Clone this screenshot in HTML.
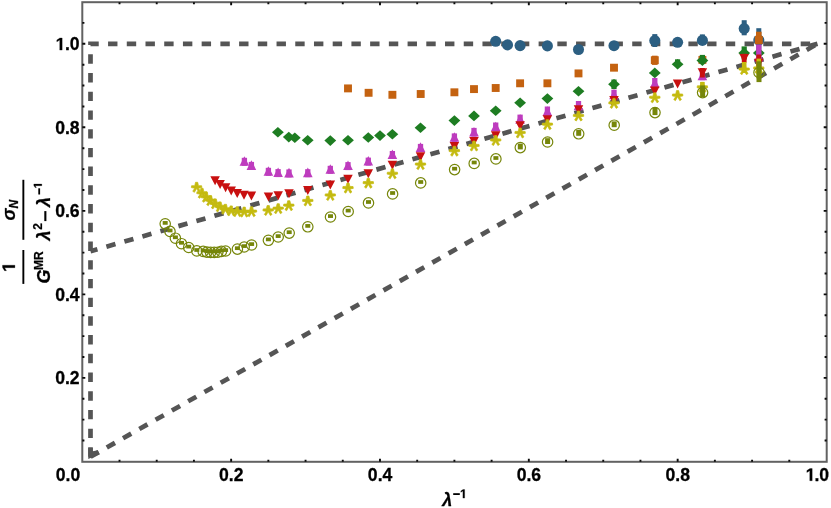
<!DOCTYPE html>
<html lang="en">
<head>
<meta charset="utf-8">
<title>Mooney-Rivlin plot</title>
<style>
html,body{margin:0;padding:0;background:#ffffff;}
body{width:831px;height:508px;overflow:hidden;font-family:"Liberation Sans",sans-serif;}
svg{display:block;will-change:transform;}
text{font-family:"Liberation Sans",sans-serif;}
</style>
</head>
<body>
<svg width="831" height="508" viewBox="0 0 831 508">
<rect width="831" height="508" fill="#ffffff"/>
<g stroke="#555555" stroke-width="4.7" fill="none" stroke-dasharray="9.4 9.32">
<path d="M90.5 456.8 L90.5 43.8 L817.5 43.8" stroke-linejoin="miter"/>
<path d="M90.5 456.8 L817.5 43.8"/>
<path d="M817.5 43.8 L90.5 251.2"/>
</g>
<path d="M88.25 447.5 L92.75 447.5 L92.75 451.2 L97.8 450.3 L99.6 454.2 L88.25 459.0 Z" fill="#555555"/>
<g id="s-blue" fill="#2c5f82">
<circle cx="495.7" cy="41.3" r="5.55"/>
<circle cx="507.5" cy="44.9" r="5.55"/>
<circle cx="520.1" cy="45.6" r="5.55"/>
<circle cx="547.4" cy="45.9" r="5.55"/>
<circle cx="578.5" cy="49.5" r="5.55"/>
<circle cx="614" cy="45.7" r="5.55"/>
<rect x="652.3" y="34.1" width="5" height="12.9" fill="#2c5f82"/>
<circle cx="654.8" cy="40.6" r="5.55"/>
<circle cx="677.6" cy="42.3" r="5.55"/>
<rect x="699.9" y="34.4" width="5" height="10.6" fill="#2c5f82"/>
<circle cx="702.4" cy="40.4" r="5.55"/>
<rect x="741.7" y="20.2" width="5" height="15.1" fill="#2c5f82"/>
<circle cx="744.2" cy="28.6" r="5.55"/>
<rect x="756.3" y="28.2" width="5" height="21.8" fill="#2c5f82"/>
<circle cx="758.8" cy="40.1" r="5.55"/>
</g>
<g id="s-orange" fill="#c46210">
<rect x="344.05" y="84.45" width="7.9" height="7.9"/>
<rect x="364.65" y="88.85" width="7.9" height="7.9"/>
<rect x="388.45" y="90.85" width="7.9" height="7.9"/>
<rect x="416.75" y="90.05" width="7.9" height="7.9"/>
<rect x="450.45" y="88.35" width="7.9" height="7.9"/>
<rect x="470.05" y="85.15" width="7.9" height="7.9"/>
<rect x="491.75" y="84.05" width="7.9" height="7.9"/>
<rect x="516.15" y="79.35" width="7.9" height="7.9"/>
<rect x="543.45" y="79.35" width="7.9" height="7.9"/>
<rect x="574.55" y="69.45" width="7.9" height="7.9"/>
<rect x="610.05" y="63.75" width="7.9" height="7.9"/>
<rect x="652" y="55.7" width="5.6" height="9.2" fill="#c46210"/>
<rect x="650.85" y="56.25" width="7.9" height="7.9"/>
<rect x="698.45" y="55.95" width="7.9" height="7.9"/>
<rect x="756" y="31.7" width="5.6" height="12.7" fill="#c46210"/>
<rect x="754.85" y="36.05" width="7.9" height="7.9"/>
</g>
<g id="s-green" fill="#1e7d22">
<path d="M272 132.3 L277.9 127 L283.8 132.3 L277.9 137.6Z"/>
<path d="M282.9 137.1 L288.8 131.8 L294.7 137.1 L288.8 142.4Z"/>
<path d="M288.9 137.8 L294.8 132.5 L300.7 137.8 L294.8 143.1Z"/>
<path d="M301.8 140.3 L307.7 135 L313.6 140.3 L307.7 145.6Z"/>
<path d="M324.4 140.6 L330.3 135.3 L336.2 140.6 L330.3 145.9Z"/>
<path d="M342.1 140.3 L348 135 L353.9 140.3 L348 145.6Z"/>
<path d="M362.4 137.5 L368.3 132.2 L374.2 137.5 L368.3 142.8Z"/>
<path d="M374.1 135.6 L380 130.3 L385.9 135.6 L380 140.9Z"/>
<path d="M386.5 134.3 L392.4 129 L398.3 134.3 L392.4 139.6Z"/>
<path d="M414.6 127.8 L420.5 122.5 L426.4 127.8 L420.5 133.1Z"/>
<path d="M448.5 120.6 L454.4 115.3 L460.3 120.6 L454.4 125.9Z"/>
<path d="M468.1 115.9 L474 110.6 L479.9 115.9 L474 121.2Z"/>
<path d="M489.8 110.8 L495.7 105.5 L501.6 110.8 L495.7 116.1Z"/>
<path d="M514.2 102.8 L520.1 97.5 L526 102.8 L520.1 108.1Z"/>
<path d="M541.5 98.6 L547.4 93.3 L553.3 98.6 L547.4 103.9Z"/>
<path d="M572.6 91.2 L578.5 85.9 L584.4 91.2 L578.5 96.5Z"/>
<rect x="611.4" y="79.5" width="5.2" height="9.5" fill="#1e7d22"/>
<path d="M608.1 84.2 L614 78.9 L619.9 84.2 L614 89.5Z"/>
<path d="M648.9 72.9 L654.8 67.6 L660.7 72.9 L654.8 78.2Z"/>
<rect x="675" y="59.3" width="5.2" height="7" fill="#1e7d22"/>
<path d="M671.7 64.3 L677.6 59 L683.5 64.3 L677.6 69.6Z"/>
<rect x="699.8" y="54.9" width="5.2" height="8.1" fill="#1e7d22"/>
<path d="M696.5 60.6 L702.4 55.3 L708.3 60.6 L702.4 65.9Z"/>
<rect x="741.6" y="46.4" width="5.2" height="13.1" fill="#1e7d22"/>
<path d="M738.3 53 L744.2 47.7 L750.1 53 L744.2 58.3Z"/>
<path d="M752.9 53 L758.8 47.7 L764.7 53 L758.8 58.3Z"/>
</g>
<g id="s-magenta" fill="#be3cbe">
<rect x="241.75" y="157.8" width="5.3" height="8" fill="#be3cbe"/>
<path d="M239.6 165.8 L244.4 156.2 L249.2 165.8Z"/>
<rect x="248.75" y="161.9" width="5.3" height="8" fill="#be3cbe"/>
<path d="M246.6 169.9 L251.4 160.3 L256.2 169.9Z"/>
<rect x="265.75" y="167.8" width="5.3" height="8" fill="#be3cbe"/>
<path d="M263.6 175.8 L268.4 166.2 L273.2 175.8Z"/>
<rect x="275.45" y="169.1" width="5.3" height="8" fill="#be3cbe"/>
<path d="M273.3 177.1 L278.1 167.5 L282.9 177.1Z"/>
<rect x="286.35" y="169.4" width="5.3" height="8" fill="#be3cbe"/>
<path d="M284.2 177.4 L289 167.8 L293.8 177.4Z"/>
<rect x="305.15" y="169.2" width="5.3" height="8" fill="#be3cbe"/>
<path d="M303 177.2 L307.8 167.6 L312.6 177.2Z"/>
<rect x="327.65" y="165.8" width="5.3" height="8" fill="#be3cbe"/>
<path d="M325.5 173.8 L330.3 164.2 L335.1 173.8Z"/>
<rect x="345.35" y="162.1" width="5.3" height="8" fill="#be3cbe"/>
<path d="M343.2 170.1 L348 160.5 L352.8 170.1Z"/>
<rect x="365.65" y="157.6" width="5.3" height="8" fill="#be3cbe"/>
<path d="M363.5 165.6 L368.3 156 L373.1 165.6Z"/>
<rect x="389.75" y="151" width="5.3" height="8" fill="#be3cbe"/>
<path d="M387.6 159 L392.4 149.4 L397.2 159Z"/>
<rect x="417.85" y="143.9" width="5.3" height="8" fill="#be3cbe"/>
<path d="M415.7 151.9 L420.5 142.3 L425.3 151.9Z"/>
<rect x="451.75" y="133.4" width="5.3" height="8.4" fill="#be3cbe"/>
<path d="M449.6 141.8 L454.4 132.2 L459.2 141.8Z"/>
<rect x="471.35" y="127.9" width="5.3" height="8.7" fill="#be3cbe"/>
<path d="M469.2 136.6 L474 127 L478.8 136.6Z"/>
<rect x="493.05" y="122.5" width="5.3" height="8.8" fill="#be3cbe"/>
<path d="M490.9 131.3 L495.7 121.7 L500.5 131.3Z"/>
<rect x="517.45" y="114.6" width="5.3" height="9.1" fill="#be3cbe"/>
<path d="M515.3 123.7 L520.1 114.1 L524.9 123.7Z"/>
<rect x="544.75" y="106.5" width="5.3" height="9.4" fill="#be3cbe"/>
<path d="M542.6 115.9 L547.4 106.3 L552.2 115.9Z"/>
<rect x="575.85" y="101" width="5.3" height="9.3" fill="#be3cbe"/>
<path d="M573.7 110.3 L578.5 100.7 L583.3 110.3Z"/>
<rect x="611.35" y="89.7" width="5.3" height="9.5" fill="#be3cbe"/>
<path d="M609.2 99.2 L614 89.6 L618.8 99.2Z"/>
<rect x="652.15" y="78" width="5.3" height="10" fill="#be3cbe"/>
<path d="M650 87.8 L654.8 78.2 L659.6 87.8Z"/>
<rect x="699.75" y="71.4" width="5.3" height="8.8" fill="#be3cbe"/>
<path d="M697.6 80.2 L702.4 70.6 L707.2 80.2Z"/>
<rect x="756.15" y="44.6" width="5.3" height="24" fill="#be3cbe"/>
<path d="M754 61.4 L758.8 51.8 L763.6 61.4Z"/>
</g>
<g id="s-red" fill="#c81010">
<path d="M210.35 176.3 L219.85 176.3 L215.1 185.3Z"/>
<path d="M215.35 179.9 L224.85 179.9 L220.1 188.9Z"/>
<path d="M220.85 183.2 L230.35 183.2 L225.6 192.2Z"/>
<path d="M226.45 186.5 L235.95 186.5 L231.2 195.5Z"/>
<path d="M232.45 189 L241.95 189 L237.2 198Z"/>
<path d="M239.25 190.8 L248.75 190.8 L244 199.8Z"/>
<path d="M246.65 191.6 L256.15 191.6 L251.4 200.6Z"/>
<path d="M263.75 192.4 L273.25 192.4 L268.5 201.4Z"/>
<path d="M273.45 191.2 L282.95 191.2 L278.2 200.2Z"/>
<path d="M284.25 189.3 L293.75 189.3 L289 198.3Z"/>
<path d="M303.05 186 L312.55 186 L307.8 195Z"/>
<path d="M325.55 180.5 L335.05 180.5 L330.3 189.5Z"/>
<path d="M343.25 174.8 L352.75 174.8 L348 183.8Z"/>
<path d="M363.55 169.2 L373.05 169.2 L368.3 178.2Z"/>
<path d="M387.65 160.7 L397.15 160.7 L392.4 169.7Z"/>
<path d="M415.75 152.3 L425.25 152.3 L420.5 161.3Z"/>
<path d="M449.65 142 L459.15 142 L454.4 151Z"/>
<path d="M469.25 137.1 L478.75 137.1 L474 146.1Z"/>
<path d="M490.95 131.3 L500.45 131.3 L495.7 140.3Z"/>
<path d="M515.35 121.3 L524.85 121.3 L520.1 130.3Z"/>
<path d="M542.65 115.2 L552.15 115.2 L547.4 124.2Z"/>
<path d="M573.75 105.2 L583.25 105.2 L578.5 114.2Z"/>
<path d="M609.25 95.9 L618.75 95.9 L614 104.9Z"/>
<path d="M650.05 86.5 L659.55 86.5 L654.8 95.5Z"/>
<path d="M672.85 79.4 L682.35 79.4 L677.6 88.4Z"/>
<rect x="700" y="68" width="4.8" height="9.5" fill="#c81010"/>
<path d="M697.65 68.2 L707.15 68.2 L702.4 77.2Z"/>
<rect x="741.8" y="53.8" width="4.8" height="8.8" fill="#c81010"/>
<path d="M739.45 53.9 L748.95 53.9 L744.2 62.9Z"/>
<rect x="756.4" y="54.5" width="4.8" height="17.6" fill="#c81010"/>
<path d="M754.05 58.8 L763.55 58.8 L758.8 67.8Z"/>
</g>
<g id="s-yellow" fill="#c4ba10" stroke="#c4ba10" stroke-width="0.7" stroke-linejoin="round">
<path d="M195.5 182.3L197.7 182.3L198.46 185.63L201.65 185.72L201.88 187.61L198.49 188.22L200.45 191.22L198.79 192.34L196.6 188.5L194.41 192.34L192.75 191.22L194.71 188.22L191.32 187.61L191.55 185.72L194.74 185.63Z"/>
<path d="M200.9 188.3L203.1 188.3L203.86 191.63L207.05 191.72L207.28 193.61L203.89 194.22L205.85 197.22L204.19 198.34L202 194.5L199.81 198.34L198.15 197.22L200.11 194.22L196.72 193.61L196.95 191.72L200.14 191.63Z"/>
<path d="M205.1 192.3L207.3 192.3L208.06 195.63L211.25 195.72L211.48 197.61L208.09 198.22L210.05 201.22L208.39 202.34L206.2 198.5L204.01 202.34L202.35 201.22L204.31 198.22L200.92 197.61L201.15 195.72L204.34 195.63Z"/>
<path d="M209.4 195.7L211.6 195.7L212.36 199.03L215.55 199.12L215.78 201.01L212.39 201.62L214.35 204.62L212.69 205.74L210.5 201.9L208.31 205.74L206.65 204.62L208.61 201.62L205.22 201.01L205.45 199.12L208.64 199.03Z"/>
<path d="M214.1 198.9L216.3 198.9L217.06 202.23L220.25 202.32L220.48 204.21L217.09 204.82L219.05 207.82L217.39 208.94L215.2 205.1L213.01 208.94L211.35 207.82L213.31 204.82L209.92 204.21L210.15 202.32L213.34 202.23Z"/>
<path d="M218.9 201.9L221.1 201.9L221.86 205.23L225.05 205.32L225.28 207.21L221.89 207.82L223.85 210.82L222.19 211.94L220 208.1L217.81 211.94L216.15 210.82L218.11 207.82L214.72 207.21L214.95 205.32L218.14 205.23Z"/>
<path d="M224.3 204.3L226.5 204.3L227.26 207.63L230.45 207.72L230.68 209.61L227.29 210.22L229.25 213.22L227.59 214.34L225.4 210.5L223.21 214.34L221.55 213.22L223.51 210.22L220.12 209.61L220.35 207.72L223.54 207.63Z"/>
<path d="M230.1 205.9L232.3 205.9L233.06 209.23L236.25 209.32L236.48 211.21L233.09 211.82L235.05 214.82L233.39 215.94L231.2 212.1L229.01 215.94L227.35 214.82L229.31 211.82L225.92 211.21L226.15 209.32L229.34 209.23Z"/>
<path d="M236.2 206.7L238.4 206.7L239.16 210.03L242.35 210.12L242.58 212.01L239.19 212.62L241.15 215.62L239.49 216.74L237.3 212.9L235.11 216.74L233.45 215.62L235.41 212.62L232.02 212.01L232.25 210.12L235.44 210.03Z"/>
<path d="M243.1 207.1L245.3 207.1L246.06 210.43L249.25 210.52L249.48 212.41L246.09 213.02L248.05 216.02L246.39 217.14L244.2 213.3L242.01 217.14L240.35 216.02L242.31 213.02L238.92 212.41L239.15 210.52L242.34 210.43Z"/>
<path d="M250.4 206.7L252.6 206.7L253.36 210.03L256.55 210.12L256.78 212.01L253.39 212.62L255.35 215.62L253.69 216.74L251.5 212.9L249.31 216.74L247.65 215.62L249.61 212.62L246.22 212.01L246.45 210.12L249.64 210.03Z"/>
<path d="M267.1 205.5L269.3 205.5L270.06 208.83L273.25 208.92L273.48 210.81L270.09 211.42L272.05 214.42L270.39 215.54L268.2 211.7L266.01 215.54L264.35 214.42L266.31 211.42L262.92 210.81L263.15 208.92L266.34 208.83Z"/>
<path d="M277.1 203.7L279.3 203.7L280.06 207.03L283.25 207.12L283.48 209.01L280.09 209.62L282.05 212.62L280.39 213.74L278.2 209.9L276.01 213.74L274.35 212.62L276.31 209.62L272.92 209.01L273.15 207.12L276.34 207.03Z"/>
<path d="M287.7 200.7L289.9 200.7L290.66 204.03L293.85 204.12L294.08 206.01L290.69 206.62L292.65 209.62L290.99 210.74L288.8 206.9L286.61 210.74L284.95 209.62L286.91 206.62L283.52 206.01L283.75 204.12L286.94 204.03Z"/>
<path d="M306.7 196L308.9 196L309.66 199.33L312.85 199.42L313.08 201.31L309.69 201.92L311.65 204.92L309.99 206.04L307.8 202.2L305.61 206.04L303.95 204.92L305.91 201.92L302.52 201.31L302.75 199.42L305.94 199.33Z"/>
<path d="M329.2 190.5L331.4 190.5L332.16 193.83L335.35 193.92L335.58 195.81L332.19 196.42L334.15 199.42L332.49 200.54L330.3 196.7L328.11 200.54L326.45 199.42L328.41 196.42L325.02 195.81L325.25 193.92L328.44 193.83Z"/>
<path d="M346.9 183.1L349.1 183.1L349.86 186.43L353.05 186.52L353.28 188.41L349.89 189.02L351.85 192.02L350.19 193.14L348 189.3L345.81 193.14L344.15 192.02L346.11 189.02L342.72 188.41L342.95 186.52L346.14 186.43Z"/>
<path d="M367.2 178.2L369.4 178.2L370.16 181.53L373.35 181.62L373.58 183.51L370.19 184.12L372.15 187.12L370.49 188.24L368.3 184.4L366.11 188.24L364.45 187.12L366.41 184.12L363.02 183.51L363.25 181.62L366.44 181.53Z"/>
<path d="M391.3 168.8L393.5 168.8L394.26 172.13L397.45 172.22L397.68 174.11L394.29 174.72L396.25 177.72L394.59 178.84L392.4 175L390.21 178.84L388.55 177.72L390.51 174.72L387.12 174.11L387.35 172.22L390.54 172.13Z"/>
<path d="M419.4 159.6L421.6 159.6L422.36 162.93L425.55 163.02L425.78 164.91L422.39 165.52L424.35 168.52L422.69 169.64L420.5 165.8L418.31 169.64L416.65 168.52L418.61 165.52L415.22 164.91L415.45 163.02L418.64 162.93Z"/>
<path d="M453.3 146.2L455.5 146.2L456.26 149.53L459.45 149.62L459.68 151.51L456.29 152.12L458.25 155.12L456.59 156.24L454.4 152.4L452.21 156.24L450.55 155.12L452.51 152.12L449.12 151.51L449.35 149.62L452.54 149.53Z"/>
<path d="M472.9 141L475.1 141L475.86 144.33L479.05 144.42L479.28 146.31L475.89 146.92L477.85 149.92L476.19 151.04L474 147.2L471.81 151.04L470.15 149.92L472.11 146.92L468.72 146.31L468.95 144.42L472.14 144.33Z"/>
<path d="M494.6 135.5L496.8 135.5L497.56 138.83L500.75 138.92L500.98 140.81L497.59 141.42L499.55 144.42L497.89 145.54L495.7 141.7L493.51 145.54L491.85 144.42L493.81 141.42L490.42 140.81L490.65 138.92L493.84 138.83Z"/>
<path d="M519 128L521.2 128L521.96 131.33L525.15 131.42L525.38 133.31L521.99 133.92L523.95 136.92L522.29 138.04L520.1 134.2L517.91 138.04L516.25 136.92L518.21 133.92L514.82 133.31L515.05 131.42L518.24 131.33Z"/>
<path d="M546.3 119.7L548.5 119.7L549.26 123.03L552.45 123.12L552.68 125.01L549.29 125.62L551.25 128.62L549.59 129.74L547.4 125.9L545.21 129.74L543.55 128.62L545.51 125.62L542.12 125.01L542.35 123.12L545.54 123.03Z"/>
<path d="M577.4 111L579.6 111L580.36 114.33L583.55 114.42L583.78 116.31L580.39 116.92L582.35 119.92L580.69 121.04L578.5 117.2L576.31 121.04L574.65 119.92L576.61 116.92L573.22 116.31L573.45 114.42L576.64 114.33Z"/>
<path d="M612.9 98.4L615.1 98.4L615.86 101.73L619.05 101.82L619.28 103.71L615.89 104.32L617.85 107.32L616.19 108.44L614 104.6L611.81 108.44L610.15 107.32L612.11 104.32L608.72 103.71L608.95 101.82L612.14 101.73Z"/>
<path d="M653.7 92.8L655.9 92.8L656.66 96.13L659.85 96.22L660.08 98.11L656.69 98.72L658.65 101.72L656.99 102.84L654.8 99L652.61 102.84L650.95 101.72L652.91 98.72L649.52 98.11L649.75 96.22L652.94 96.13Z"/>
<path d="M676.5 90.6L678.7 90.6L679.46 93.93L682.65 94.02L682.88 95.91L679.49 96.52L681.45 99.52L679.79 100.64L677.6 96.8L675.41 100.64L673.75 99.52L675.71 96.52L672.32 95.91L672.55 94.02L675.74 93.93Z"/>
<rect x="700.1" y="81.9" width="4.6" height="10.5" stroke="none"/>
<path d="M701.3 82.4L703.5 82.4L704.26 85.73L707.45 85.82L707.68 87.71L704.29 88.32L706.25 91.32L704.59 92.44L702.4 88.6L700.21 92.44L698.55 91.32L700.51 88.32L697.12 87.71L697.35 85.82L700.54 85.73Z"/>
<rect x="741.9" y="62" width="4.6" height="11" stroke="none"/>
<path d="M743.1 64.6L745.3 64.6L746.06 67.93L749.25 68.02L749.48 69.91L746.09 70.52L748.05 73.52L746.39 74.64L744.2 70.8L742.01 74.64L740.35 73.52L742.31 70.52L738.92 69.91L739.15 68.02L742.34 67.93Z"/>
<rect x="756.5" y="58.6" width="4.6" height="19.8" stroke="none"/>
<path d="M757.7 63.5L759.9 63.5L760.66 66.83L763.85 66.92L764.08 68.81L760.69 69.42L762.65 72.42L760.99 73.54L758.8 69.7L756.61 73.54L754.95 72.42L756.91 69.42L753.52 68.81L753.75 66.92L756.94 66.83Z"/>
</g>
<g id="s-olive" fill="#76860a">
<rect x="162.7" y="221.05" width="5" height="3.7" fill="#76860a"/>
<circle cx="165.2" cy="223.8" r="5.2" fill="none" stroke="#76860a" stroke-width="1.2"/>
<rect x="167.5" y="228.65" width="5" height="3.7" fill="#76860a"/>
<circle cx="170" cy="231.4" r="5.2" fill="none" stroke="#76860a" stroke-width="1.2"/>
<rect x="172.9" y="235.45" width="5" height="3.7" fill="#76860a"/>
<circle cx="175.4" cy="238.2" r="5.2" fill="none" stroke="#76860a" stroke-width="1.2"/>
<rect x="179" y="240.95" width="5" height="3.7" fill="#76860a"/>
<circle cx="181.5" cy="243.7" r="5.2" fill="none" stroke="#76860a" stroke-width="1.2"/>
<rect x="186.2" y="244.75" width="5" height="3.7" fill="#76860a"/>
<circle cx="188.7" cy="247.5" r="5.2" fill="none" stroke="#76860a" stroke-width="1.2"/>
<rect x="194.3" y="248.15" width="5" height="3.7" fill="#76860a"/>
<circle cx="196.8" cy="250.9" r="5.2" fill="none" stroke="#76860a" stroke-width="1.2"/>
<rect x="200.7" y="248.65" width="5" height="3.7" fill="#76860a"/>
<circle cx="203.2" cy="251.4" r="5.2" fill="none" stroke="#76860a" stroke-width="1.2"/>
<rect x="204.4" y="249.35" width="5" height="3.7" fill="#76860a"/>
<circle cx="206.9" cy="252.1" r="5.2" fill="none" stroke="#76860a" stroke-width="1.2"/>
<rect x="208.1" y="249.65" width="5" height="3.7" fill="#76860a"/>
<circle cx="210.6" cy="252.4" r="5.2" fill="none" stroke="#76860a" stroke-width="1.2"/>
<rect x="211.7" y="249.65" width="5" height="3.7" fill="#76860a"/>
<circle cx="214.2" cy="252.4" r="5.2" fill="none" stroke="#76860a" stroke-width="1.2"/>
<rect x="215.3" y="249.45" width="5" height="3.7" fill="#76860a"/>
<circle cx="217.8" cy="252.2" r="5.2" fill="none" stroke="#76860a" stroke-width="1.2"/>
<rect x="218.9" y="248.65" width="5" height="3.7" fill="#76860a"/>
<circle cx="221.4" cy="251.4" r="5.2" fill="none" stroke="#76860a" stroke-width="1.2"/>
<rect x="223.1" y="248.25" width="5" height="3.7" fill="#76860a"/>
<circle cx="225.6" cy="251" r="5.2" fill="none" stroke="#76860a" stroke-width="1.2"/>
<rect x="234.9" y="246.35" width="5" height="3.7" fill="#76860a"/>
<circle cx="237.4" cy="249.1" r="5.2" fill="none" stroke="#76860a" stroke-width="1.2"/>
<rect x="241.7" y="244.25" width="5" height="3.7" fill="#76860a"/>
<circle cx="244.2" cy="247" r="5.2" fill="none" stroke="#76860a" stroke-width="1.2"/>
<rect x="249.1" y="242.25" width="5" height="3.7" fill="#76860a"/>
<circle cx="251.6" cy="245" r="5.2" fill="none" stroke="#76860a" stroke-width="1.2"/>
<rect x="265.9" y="237.55" width="5" height="3.7" fill="#76860a"/>
<circle cx="268.4" cy="240.3" r="5.2" fill="none" stroke="#76860a" stroke-width="1.2"/>
<rect x="275.7" y="234.25" width="5" height="3.7" fill="#76860a"/>
<circle cx="278.2" cy="237" r="5.2" fill="none" stroke="#76860a" stroke-width="1.2"/>
<rect x="286.7" y="230.35" width="5" height="3.7" fill="#76860a"/>
<circle cx="289.2" cy="233.1" r="5.2" fill="none" stroke="#76860a" stroke-width="1.2"/>
<rect x="305.3" y="224.05" width="5" height="3.7" fill="#76860a"/>
<circle cx="307.8" cy="226.8" r="5.2" fill="none" stroke="#76860a" stroke-width="1.2"/>
<rect x="328" y="214.25" width="5" height="3.7" fill="#76860a"/>
<circle cx="330.5" cy="217" r="5.2" fill="none" stroke="#76860a" stroke-width="1.2"/>
<rect x="345.7" y="208.75" width="5" height="3.7" fill="#76860a"/>
<circle cx="348.2" cy="211.5" r="5.2" fill="none" stroke="#76860a" stroke-width="1.2"/>
<rect x="366" y="200.15" width="5" height="3.7" fill="#76860a"/>
<circle cx="368.5" cy="202.9" r="5.2" fill="none" stroke="#76860a" stroke-width="1.2"/>
<rect x="390.1" y="191.15" width="5" height="3.7" fill="#76860a"/>
<circle cx="392.6" cy="193.9" r="5.2" fill="none" stroke="#76860a" stroke-width="1.2"/>
<rect x="418.2" y="180.15" width="5" height="3.7" fill="#76860a"/>
<circle cx="420.7" cy="182.9" r="5.2" fill="none" stroke="#76860a" stroke-width="1.2"/>
<rect x="452.1" y="166.85" width="5" height="3.7" fill="#76860a"/>
<circle cx="454.6" cy="169.6" r="5.2" fill="none" stroke="#76860a" stroke-width="1.2"/>
<rect x="471.7" y="160.65" width="5" height="3.7" fill="#76860a"/>
<circle cx="474.2" cy="163.4" r="5.2" fill="none" stroke="#76860a" stroke-width="1.2"/>
<rect x="493.4" y="156.15" width="5" height="3.7" fill="#76860a"/>
<circle cx="495.9" cy="158.9" r="5.2" fill="none" stroke="#76860a" stroke-width="1.2"/>
<rect x="517.8" y="143.6" width="5" height="5.8" fill="#76860a"/>
<circle cx="520.3" cy="147.6" r="5.2" fill="none" stroke="#76860a" stroke-width="1.2"/>
<rect x="545.1" y="138.2" width="5" height="5.8" fill="#76860a"/>
<circle cx="547.6" cy="142" r="5.2" fill="none" stroke="#76860a" stroke-width="1.2"/>
<rect x="576.2" y="130" width="5" height="5.8" fill="#76860a"/>
<circle cx="578.7" cy="133.8" r="5.2" fill="none" stroke="#76860a" stroke-width="1.2"/>
<rect x="611.7" y="121.4" width="5" height="5.8" fill="#76860a"/>
<circle cx="614.2" cy="125.2" r="5.2" fill="none" stroke="#76860a" stroke-width="1.2"/>
<rect x="652.5" y="107.4" width="5" height="7.7" fill="#76860a"/>
<circle cx="655" cy="112.6" r="5.2" fill="none" stroke="#76860a" stroke-width="1.2"/>
<rect x="700.1" y="85.4" width="5" height="11.8" fill="#76860a"/>
<circle cx="702.6" cy="92.6" r="5.2" fill="none" stroke="#76860a" stroke-width="1.2"/>
<rect x="756.5" y="61.3" width="5" height="20.8" fill="#76860a"/>
<circle cx="759" cy="72.5" r="5.2" fill="none" stroke="#76860a" stroke-width="1.2"/>
</g>
<rect x="82.3" y="2.2" width="744.4" height="459.6" fill="none" stroke="#626262" stroke-width="2.0"/>
<g stroke="#0a0a0a" stroke-width="1.9">
<path d="M119.51 461.8 v-2.1 M119.51 2.2 v2.1"/>
<path d="M156.72 461.8 v-2.1 M156.72 2.2 v2.1"/>
<path d="M193.93 461.8 v-2.1 M193.93 2.2 v2.1"/>
<path d="M231.14 461.8 v-3 M231.14 2.2 v3"/>
<path d="M268.35 461.8 v-2.1 M268.35 2.2 v2.1"/>
<path d="M305.56 461.8 v-2.1 M305.56 2.2 v2.1"/>
<path d="M342.77 461.8 v-2.1 M342.77 2.2 v2.1"/>
<path d="M379.98 461.8 v-3 M379.98 2.2 v3"/>
<path d="M417.19 461.8 v-2.1 M417.19 2.2 v2.1"/>
<path d="M454.4 461.8 v-2.1 M454.4 2.2 v2.1"/>
<path d="M491.61 461.8 v-2.1 M491.61 2.2 v2.1"/>
<path d="M528.82 461.8 v-3 M528.82 2.2 v3"/>
<path d="M566.03 461.8 v-2.1 M566.03 2.2 v2.1"/>
<path d="M603.24 461.8 v-2.1 M603.24 2.2 v2.1"/>
<path d="M640.45 461.8 v-2.1 M640.45 2.2 v2.1"/>
<path d="M677.66 461.8 v-3 M677.66 2.2 v3"/>
<path d="M714.87 461.8 v-2.1 M714.87 2.2 v2.1"/>
<path d="M752.08 461.8 v-2.1 M752.08 2.2 v2.1"/>
<path d="M789.29 461.8 v-2.1 M789.29 2.2 v2.1"/>
<path d="M82.3 440.52 h2.1 M826.7 440.52 h-2.1"/>
<path d="M82.3 419.64 h2.1 M826.7 419.64 h-2.1"/>
<path d="M82.3 398.76 h2.1 M826.7 398.76 h-2.1"/>
<path d="M82.3 377.88 h3 M826.7 377.88 h-3"/>
<path d="M82.3 357 h2.1 M826.7 357 h-2.1"/>
<path d="M82.3 336.12 h2.1 M826.7 336.12 h-2.1"/>
<path d="M82.3 315.24 h2.1 M826.7 315.24 h-2.1"/>
<path d="M82.3 294.36 h3 M826.7 294.36 h-3"/>
<path d="M82.3 273.48 h2.1 M826.7 273.48 h-2.1"/>
<path d="M82.3 252.6 h2.1 M826.7 252.6 h-2.1"/>
<path d="M82.3 231.72 h2.1 M826.7 231.72 h-2.1"/>
<path d="M82.3 210.84 h3 M826.7 210.84 h-3"/>
<path d="M82.3 189.96 h2.1 M826.7 189.96 h-2.1"/>
<path d="M82.3 169.08 h2.1 M826.7 169.08 h-2.1"/>
<path d="M82.3 148.2 h2.1 M826.7 148.2 h-2.1"/>
<path d="M82.3 127.32 h3 M826.7 127.32 h-3"/>
<path d="M82.3 106.44 h2.1 M826.7 106.44 h-2.1"/>
<path d="M82.3 85.56 h2.1 M826.7 85.56 h-2.1"/>
<path d="M82.3 64.68 h2.1 M826.7 64.68 h-2.1"/>
<path d="M82.3 43.8 h3 M826.7 43.8 h-3"/>
<path d="M82.3 22.92 h2.1 M826.7 22.92 h-2.1"/>
</g>
<g font-family="Liberation Sans, sans-serif" font-weight="bold" font-size="17.6" fill="#000" stroke="#000" stroke-width="0.28" stroke-linejoin="round">
<text x="55.77" y="480.7">0.0</text>
<text x="219.07" y="480.7">0.2</text>
<text x="367.87" y="480.7">0.4</text>
<text x="516.67" y="480.7">0.6</text>
<text x="665.47" y="480.7">0.8</text>
<path transform="translate(805.67 480.7) scale(0.00859 -0.00859)" d="M478 0V1170L140 959V1180L493 1409H759V0Z" fill="#000" stroke="#000" stroke-width="32.58" stroke-linejoin="round"/>
<text x="814.45" y="480.7">.0</text>
<text x="55.14" y="384.18">0.2</text>
<text x="55.14" y="300.66">0.4</text>
<text x="55.14" y="217.14">0.6</text>
<text x="55.14" y="133.62">0.8</text>
<path transform="translate(55.64 50.1) scale(0.00859 -0.00859)" d="M478 0V1170L140 959V1180L493 1409H759V0Z" fill="#000" stroke="#000" stroke-width="32.58" stroke-linejoin="round"/>
<text x="64.92" y="50.1">.0</text>
</g>
<text x="442.2" y="505.7" font-family="Liberation Sans, sans-serif" font-weight="bold" font-style="italic" fill="#000" stroke="#000" stroke-width="0.28" stroke-linejoin="round" font-size="18">λ</text>
<rect x="453.2" y="493.2" width="6.6" height="1.8" fill="#000"/>
<path transform="translate(460 498.1) scale(0.00610 -0.00610)" d="M478 0V1170L140 959V1180L493 1409H759V0Z" fill="#000" stroke="#000" stroke-width="45.88" stroke-linejoin="round"/>
<rect x="22.4" y="179.8" width="1.9" height="60" fill="#000"/>
<rect x="22.4" y="250" width="1.9" height="33.9" fill="#000"/>
<path transform="translate(14.9 271.9) rotate(-90) scale(0.00879 -0.00879)" d="M478 0V1170L140 959V1180L493 1409H759V0Z" fill="#000" stroke="#000" stroke-width="31.86" stroke-linejoin="round"/>
<text transform="translate(50.3 283.6) rotate(-90)" font-family="Liberation Sans, sans-serif" font-weight="bold" font-style="italic" fill="#000" stroke="#000" stroke-width="0.28" stroke-linejoin="round" font-size="18">G</text>
<text transform="translate(43.3 269.9) rotate(-90)" font-family="Liberation Sans, sans-serif" font-weight="bold" fill="#000" stroke="#000" stroke-width="0.22" stroke-linejoin="round" font-size="12">MR</text>
<text transform="translate(14.9 220.6) rotate(-90)" font-family="Liberation Sans, sans-serif" font-weight="bold" font-style="italic" fill="#000" stroke="#000" stroke-width="0.28" stroke-linejoin="round" font-size="18">σ</text>
<text transform="translate(17.9 208.6) rotate(-90)" font-family="Liberation Sans, sans-serif" font-weight="bold" font-style="italic" fill="#000" stroke="#000" stroke-width="0.28" stroke-linejoin="round" font-size="12">N</text>
<text transform="translate(50.1 240.4) rotate(-90)" font-family="Liberation Sans, sans-serif" font-weight="bold" font-style="italic" fill="#000" stroke="#000" stroke-width="0.28" stroke-linejoin="round" font-size="18">λ</text>
<text transform="translate(41.8 229.7) rotate(-90)" font-family="Liberation Sans, sans-serif" font-weight="bold" fill="#000" stroke="#000" stroke-width="0.22" stroke-linejoin="round" font-size="11.9">2</text>
<rect x="44.3" y="211.1" width="2.1" height="10" fill="#000"/>
<text transform="translate(50.1 206.9) rotate(-90)" font-family="Liberation Sans, sans-serif" font-weight="bold" font-style="italic" fill="#000" stroke="#000" stroke-width="0.28" stroke-linejoin="round" font-size="18">λ</text>
<rect x="38.3" y="188.3" width="1.8" height="6.2" fill="#000"/>
<path transform="translate(41.8 188.4) rotate(-90) scale(0.00566 -0.00566)" d="M478 0V1170L140 959V1180L493 1409H759V0Z" fill="#000" stroke="#000" stroke-width="49.43" stroke-linejoin="round"/>
</svg>
</body>
</html>
